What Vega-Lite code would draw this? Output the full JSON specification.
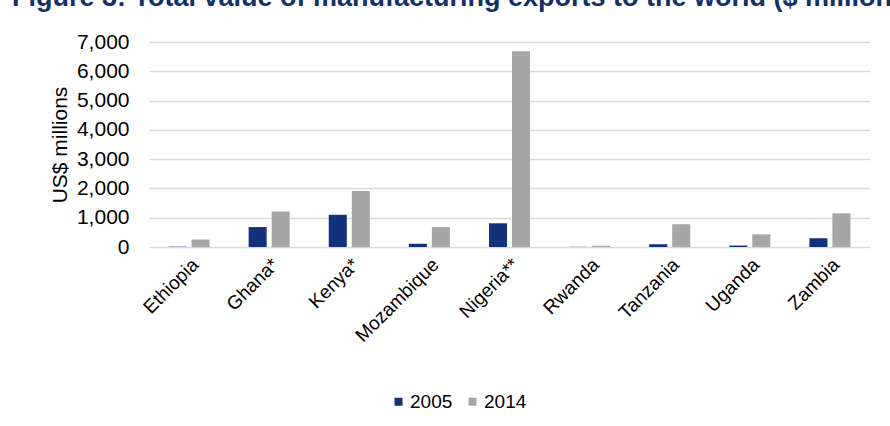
{
  "$schema": "https://vega.github.io/schema/vega-lite/v6.json",
  "width": 721,
  "height": 205,
  "autosize": {"type": "none"},
  "padding": {"left": 149, "top": 42, "right": 20, "bottom": 179},
  "background": "white",
  "title": {
    "text": "Figure 3: Total value of manufacturing exports to the world ($ millions)",
    "anchor": "start",
    "frame": "group",
    "font": "Liberation Sans",
    "fontSize": 27,
    "fontWeight": "bold",
    "color": "#12306B",
    "baseline": "alphabetic",
    "offset": -2,
    "dx": -137
  },
  "data": {
    "values": [
      {"country": "Ethiopia", "year": "2005", "value": 10},
      {"country": "Ethiopia", "year": "2014", "value": 255},
      {"country": "Ghana*", "year": "2005", "value": 680},
      {"country": "Ghana*", "year": "2014", "value": 1210},
      {"country": "Kenya*", "year": "2005", "value": 1100},
      {"country": "Kenya*", "year": "2014", "value": 1910},
      {"country": "Mozambique", "year": "2005", "value": 110},
      {"country": "Mozambique", "year": "2014", "value": 680},
      {"country": "Nigeria**", "year": "2005", "value": 810},
      {"country": "Nigeria**", "year": "2014", "value": 6680},
      {"country": "Rwanda", "year": "2005", "value": 5},
      {"country": "Rwanda", "year": "2014", "value": 40},
      {"country": "Tanzania", "year": "2005", "value": 90},
      {"country": "Tanzania", "year": "2014", "value": 780},
      {"country": "Uganda", "year": "2005", "value": 50},
      {"country": "Uganda", "year": "2014", "value": 430},
      {"country": "Zambia", "year": "2005", "value": 300},
      {"country": "Zambia", "year": "2014", "value": 1150}
    ]
  },
  "mark": {"type": "bar", "stroke": null},
  "encoding": {
    "x": {
      "field": "country",
      "type": "nominal",
      "sort": null,
      "scale": {"paddingInner": 0, "paddingOuter": 0},
      "axis": {
        "title": null,
        "labelAngle": -45,
        "labelFont": "Liberation Sans",
        "labelFontSize": 19,
        "labelColor": "#000000",
        "ticks": false,
        "domain": false,
        "labelPadding": 8
      }
    },
    "xOffset": {
      "field": "year",
      "type": "nominal",
      "scale": {"paddingInner": 0.217, "paddingOuter": 0.848}
    },
    "y": {
      "field": "value",
      "type": "quantitative",
      "scale": {"domain": [0, 7000]},
      "axis": {
        "values": [0, 1000, 2000, 3000, 4000, 5000, 6000, 7000],
        "format": ",d",
        "title": "US$ millions",
        "titleFont": "Liberation Sans",
        "titleFontSize": 21,
        "titleFontWeight": "normal",
        "titleColor": "#000000",
        "titlePadding": 6,
        "labelFont": "Liberation Sans",
        "labelFontSize": 21,
        "labelColor": "#000000",
        "labelPadding": 20,
        "ticks": false,
        "domain": false,
        "grid": true,
        "gridColor": "#D9D9D9",
        "gridWidth": 1.5
      }
    },
    "color": {
      "field": "year",
      "type": "nominal",
      "scale": {"range": ["#13307A", "#A6A6A6"]},
      "legend": {
        "title": null,
        "orient": "none",
        "direction": "horizontal",
        "legendX": 240,
        "legendY": 350,
        "symbolType": "square",
        "symbolSize": 64,
        "symbolStrokeWidth": 0,
        "labelFont": "Liberation Sans",
        "labelFontSize": 19,
        "labelColor": "#000000",
        "labelOffset": 2,
        "columnPadding": 10
      }
    }
  },
  "config": {
    "view": {"stroke": null}
  }
}
